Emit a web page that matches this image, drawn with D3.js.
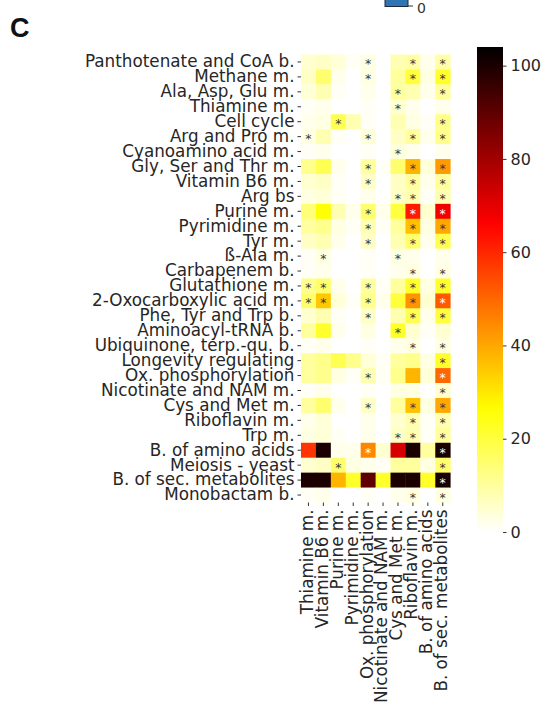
<!DOCTYPE html>
<html>
<head>
<meta charset="utf-8">
<script src="https://cdn.jsdelivr.net/npm/d3@7"></script>
<style>
    body { margin: 0; background: #fff; }
    svg { display: block; }
</style>
</head>
<body>
<div id="chart"></div>
<script>
// row labels (pathways), top to bottom
var rowLabels = [
    "Panthotenate and CoA b.", "Methane m.", "Ala, Asp, Glu m.", "Thiamine m.", "Cell cycle",
    "Arg and Pro m.", "Cyanoamino acid m.", "Gly, Ser and Thr m.", "Vitamin B6 m.", "Arg bs",
    "Purine m.", "Pyrimidine m.", "Tyr m.", "ß-Ala m.", "Carbapenem b.",
    "Glutathione m.", "2-Oxocarboxylic acid m.", "Phe, Tyr and Trp b.", "Aminoacyl-tRNA b.", "Ubiquinone, terp.-qu. b.",
    "Longevity regulating", "Ox. phosphorylation", "Nicotinate and NAM m.", "Cys and Met m.", "Riboflavin m.",
    "Trp m.", "B. of amino acids", "Meiosis - yeast", "B. of sec. metabolites", "Monobactam b."
];

// column labels
var colLabels = [
    "Thiamine m.", "Vitamin B6 m.", "Purine m.", "Pyrimidine m.", "Ox. phosphorylation",
    "Nicotinate and NAM m.", "Cys and Met m.", "Riboflavin m.", "B. of amino acids", "B. of sec. metabolites"
];

// cell values, one list per row (same order as rowLabels)
var values = [
    [5, 6, 4, 1, 3, 0, 8, 9, 2, 9],
    [6, 15, 2, 0, 3, 0, 10, 20, 3, 22],
    [4, 8, 1, 0, 2, 0, 10, 8, 2, 10],
    [1, 2, 0, 0, 1, 0, 5, 2, 0, 2],
    [2, 3, 18, 8, 1, 0, 8, 3, 1, 12],
    [3, 8, 1, 0, 4, 0, 6, 10, 2, 12],
    [1, 2, 0, 0, 1, 0, 4, 2, 0, 2],
    [12, 18, 2, 0, 10, 1, 15, 38, 4, 42],
    [5, 6, 1, 0, 6, 0, 6, 10, 2, 10],
    [3, 4, 1, 0, 2, 0, 6, 8, 1, 8],
    [14, 26, 8, 2, 15, 2, 20, 62, 5, 68],
    [10, 12, 3, 1, 8, 1, 10, 36, 3, 40],
    [6, 8, 2, 0, 6, 0, 8, 15, 2, 18],
    [1, 3, 0, 0, 1, 0, 3, 2, 0, 2],
    [1, 2, 0, 0, 1, 0, 2, 3, 0, 3],
    [12, 15, 2, 0, 10, 1, 10, 22, 3, 22],
    [15, 35, 4, 1, 12, 2, 20, 43, 5, 52],
    [5, 8, 1, 0, 6, 0, 8, 18, 2, 20],
    [10, 22, 2, 0, 3, 0, 22, 5, 1, 5],
    [1, 2, 0, 0, 1, 0, 2, 3, 0, 3],
    [10, 12, 18, 12, 4, 1, 10, 12, 3, 22],
    [10, 12, 3, 1, 8, 1, 12, 38, 4, 50],
    [1, 2, 0, 0, 1, 0, 3, 3, 0, 5],
    [10, 15, 2, 0, 6, 0, 10, 36, 3, 40],
    [2, 4, 0, 0, 2, 0, 5, 8, 1, 8],
    [3, 4, 1, 0, 2, 0, 6, 8, 1, 10],
    [58, 100, 2, 2, 45, 5, 72, 100, 10, 100],
    [5, 6, 15, 3, 2, 1, 10, 10, 3, 15],
    [100, 100, 38, 22, 90, 22, 100, 100, 22, 100],
    [1, 2, 0, 0, 1, 0, 2, 3, 0, 3]
];

// significance marks, one string per row ("1" = asterisk)
var stars = [
    "0000100101", "0000100101", "0000001001", "0000001000", "0010000001",
    "1000100101", "0000001000", "0000100101", "0000100101", "0000001101",
    "0000100101", "0000100101", "0000100101", "0100001000", "0000000101",
    "1100100101", "1100100101", "0000100101", "0000001000", "0000000101",
    "0000000001", "0000100001", "0000000001", "0000100101", "0000000101",
    "0000001101", "0000100001", "0010000001", "0000000001", "0000000101"
];

// colorbar ticks
var cbarTicks = [0, 20, 40, 60, 80, 100];
var vmax = 104;

var width = 557, height = 728;
var labelSize = "16.8px";

var svg = d3.select("#chart").append("svg")
    .attr("width", width)
    .attr("height", height)
    .style("font-family", "'DejaVu Sans', sans-serif");

// matplotlib "hot" reversed
function hotR(t) {
    t = 1 - Math.max(0, Math.min(1, t));
    var r = Math.min(1, t / 0.365079);
    var g = Math.max(0, Math.min(1, (t - 0.365079) / (0.746032 - 0.365079)));
    var b = Math.max(0, Math.min(1, (t - 0.746032) / (1 - 0.746032)));
    return d3.rgb(r * 255, g * 255, b * 255);
}
var color = d3.scaleSequential(hotR).domain([0, vmax]);

function lum(c) {
    function lin(v) {
        v = v / 255;
        return v <= 0.03928 ? v / 12.92 : Math.pow((v + 0.055) / 1.055, 2.4);
    }
    return 0.2126 * lin(c.r) + 0.7152 * lin(c.g) + 0.0722 * lin(c.b);
}

//Scales
var x = d3.scaleBand().domain(colLabels).range([301, 450.2]);
var y = d3.scaleBand().domain(rowLabels).range([54.5, 502.5]);

//Cells
var cells = [];
values.forEach(function (row, i) {
    row.forEach(function (v, j) {
        cells.push({row: rowLabels[i], col: colLabels[j], value: v, star: stars[i][j] === "1"});
    });
});

svg.append("g").selectAll("rect")
    .data(cells)
    .enter()
    .append("rect")
    .attr("x", function (d) { return x(d.col); })
    .attr("y", function (d) { return y(d.row); })
    .attr("width", x.bandwidth() + 0.4)
    .attr("height", y.bandwidth() + 0.4)
    .style("fill", function (d) { return color(d.value); });

//Asterisks
svg.append("g").selectAll("text")
    .data(cells.filter(function (d) { return d.star; }))
    .enter()
    .append("text")
    .attr("x", function (d) { return x(d.col) + x.bandwidth() / 2; })
    .attr("y", function (d) { return y(d.row) + y.bandwidth() / 2 + 6.5; })
    .attr("text-anchor", "middle")
    .style("font-size", "12.5px")
    .style("fill", function (d) { return lum(color(d.value)) > 0.408 ? "#3a3a3a" : "#ffffff"; })
    .text("*");

//Y axis
var yAxis = svg.append("g")
    .attr("transform", "translate(301,0)")
    .call(d3.axisLeft(y).tickSize(3.5).tickPadding(3));
yAxis.select(".domain").remove();
yAxis.selectAll("line").style("stroke", "#333");
yAxis.selectAll("text")
    .style("font-size", labelSize)
    .style("fill", "#262626")
    .style("font-family", "'DejaVu Sans', sans-serif");

//X axis
var xAxis = svg.append("g")
    .attr("transform", "translate(0,502.5)")
    .call(d3.axisBottom(x).tickSize(3.5).tickPadding(3));
xAxis.select(".domain").remove();
xAxis.selectAll("line").style("stroke", "#333");
xAxis.selectAll("text")
    .attr("y", -1.5)
    .attr("x", -7)
    .attr("dy", "0.35em")
    .attr("transform", "rotate(-90)")
    .style("text-anchor", "end")
    .style("font-size", labelSize)
    .style("fill", "#262626")
    .style("font-family", "'DejaVu Sans', sans-serif");

//Colorbar
var cbY = d3.scaleLinear().domain([0, vmax]).range([532, 47]);
var defs = svg.append("defs");
var grad = defs.append("linearGradient")
    .attr("id", "cbar")
    .attr("x1", 0).attr("y1", 1)
    .attr("x2", 0).attr("y2", 0);
d3.range(0, 1.0001, 0.02).forEach(function (t) {
    grad.append("stop")
        .attr("offset", t)
        .attr("stop-color", color(t * vmax));
});
svg.append("rect")
    .attr("x", 477)
    .attr("y", cbY(vmax))
    .attr("width", 26)
    .attr("height", cbY(0) - cbY(vmax))
    .style("fill", "url(#cbar)");

var cbAxis = svg.append("g")
    .attr("transform", "translate(503,0)")
    .call(d3.axisRight(cbY).tickValues(cbarTicks).tickSize(3.5).tickPadding(4));
cbAxis.select(".domain").remove();
cbAxis.selectAll("line").style("stroke", "#333");
cbAxis.selectAll("text")
    .style("font-size", "16px")
    .style("fill", "#262626")
    .style("font-family", "'DejaVu Sans', sans-serif");

//Panel letter
svg.append("text")
    .attr("x", 10)
    .attr("y", 37)
    .style("font-family", "'Liberation Sans', Arial, sans-serif")
    .style("font-weight", "bold")
    .style("font-size", "27px")
    .style("fill", "#111")
    .text("C");

//leftover of the panel above (cut legend)
svg.append("rect")
    .attr("x", 385)
    .attr("y", -2)
    .attr("width", 23)
    .attr("height", 8.5)
    .style("fill", "#2f74b5")
    .style("stroke", "#1b2a3a")
    .style("stroke-width", 1);
svg.append("line")
    .attr("x1", 408).attr("y1", 6)
    .attr("x2", 413).attr("y2", 6)
    .style("stroke", "#333");
svg.append("text")
    .attr("x", 417)
    .attr("y", 13)
    .style("font-size", "14px")
    .style("fill", "#333")
    .text("0");
</script>
</body>
</html>
